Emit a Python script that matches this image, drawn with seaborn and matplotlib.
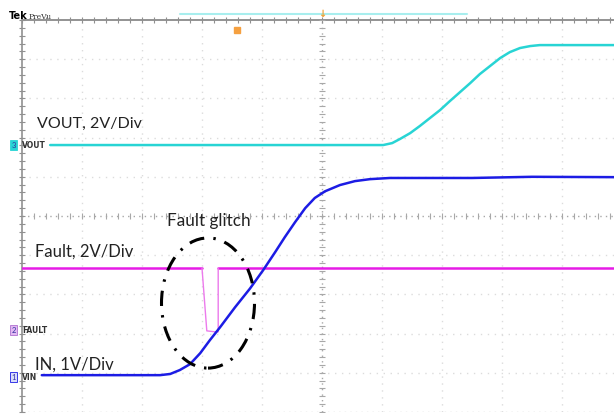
import seaborn as sns
import matplotlib.pyplot as plt
from matplotlib.patches import Ellipse

# time in screen divisions from the left edge, values in volts
vout_t = [0.47, 6.02, 6.17, 6.30, 6.47, 6.63, 6.80, 6.97, 7.13, 7.30, 7.47,
          7.63, 7.80, 7.97, 8.13, 8.30, 8.47, 8.63, 10.0]
vout_v = [0, 0, 0.10, 0.31, 0.61, 0.97, 1.38, 1.79, 2.24, 2.70, 3.16,
          3.62, 4.03, 4.44, 4.74, 4.95, 5.05, 5.10, 5.10]

vin_t = [0.33, 2.30, 2.47, 2.63, 2.80, 2.97, 3.13, 3.30, 3.55, 3.80, 4.02,
         4.22, 4.38, 4.55, 4.72, 4.88, 5.05, 5.30, 5.55, 5.80, 6.13, 7.5, 8.5, 10.0]
vin_v = [0, 0, 0.03, 0.13, 0.28, 0.56, 0.89, 1.22, 1.73, 2.21, 2.68,
         3.14, 3.52, 3.90, 4.26, 4.52, 4.69, 4.85, 4.95, 5.00, 5.03, 5.03, 5.06, 5.05]

fault_t = [0, 3.00, 3.08, 3.22, 3.27, 3.27, 10.0]
fault_v = [0, 0, -3.2, -3.25, -3.25, 0, 0]

# volts/div and screen offset (div) for each channel
vout_scale, vout_off = 2, 1.81
fault_scale, fault_off = 2, -1.33
vin_scale, vin_off = 1, -4.06

cyan = '#28D4D4'
blue = '#1C1CE4'
magenta = '#E61CE6'


def to_div(vals, scale, off):
    return [off + v / scale for v in vals]


sns.set_style('white')
plt.rcParams['font.family'] = ['Lato', 'DejaVu Sans']

fig = plt.figure(figsize=(6.14, 4.15), dpi=100)
ax = fig.add_axes([22 / 614, 3 / 415, 600 / 614, 392 / 415])
ax.set_xlim(0, 10)
ax.set_ylim(-5, 5)
for s in ax.spines.values():
    s.set_visible(False)
ax.set_xticks([])
ax.set_yticks([])

# graticule
grid_c = '#dcdcdc'
for x in range(1, 10):
    if x != 5:
        ax.axvline(x, color=grid_c, lw=1, ls=(0, (1, 4)), zorder=0)
for y in range(-4, 5):
    if y != 0:
        ax.axhline(y, color=grid_c, lw=1, ls=(0, (1, 4)), zorder=0)
ax.axhline(-5, color='#c8c8c8', lw=1, ls=(0, (1, 3)), zorder=0)
ax.axvline(5, color='#a8a8a8', lw=1, ls=(0, (1, 3)), zorder=0)
ax.axhline(0, color='#a8a8a8', lw=1, ls=(0, (1, 3)), zorder=0)
ax.axvline(0, color='#909090', lw=1.2, zorder=0, clip_on=False)
ax.axhline(5, color='#808080', lw=1.2, zorder=0, clip_on=False)
minor_x = [i * 0.2 for i in range(51)]
minor_y = [-5 + i * 0.2 for i in range(51)]
ax.plot(minor_x, [0] * len(minor_x), ls='none', marker='|', ms=4, color='#a8a8a8', mew=0.8)
ax.plot(minor_x, [5] * len(minor_x), ls='none', marker='|', ms=5, color='#909090', mew=0.8, clip_on=False)
ax.plot([5] * len(minor_y), minor_y, ls='none', marker='_', ms=4, color='#a8a8a8', mew=0.8)
ax.plot([0] * len(minor_y), minor_y, ls='none', marker='_', ms=5, color='#909090', mew=0.8, clip_on=False)

# traces
sns.lineplot(x=vout_t, y=to_div(vout_v, vout_scale, vout_off), ax=ax, color=cyan,
             lw=1.8, estimator=None, sort=False)
fy = to_div(fault_v, fault_scale, fault_off)
sns.lineplot(x=fault_t[:2], y=fy[:2], ax=ax, color=magenta, lw=1.8, estimator=None, sort=False)
sns.lineplot(x=fault_t[5:], y=fy[5:], ax=ax, color=magenta, lw=1.8, estimator=None, sort=False)
sns.lineplot(x=fault_t[1:6], y=fy[1:6], ax=ax, color='#EC7AEC', lw=1.0, estimator=None, sort=False)
sns.lineplot(x=vin_t, y=to_div(vin_v, vin_scale, vin_off), ax=ax, color=blue,
             lw=1.8, estimator=None, sort=False)

# annotation ellipse
ax.add_patch(Ellipse((3.10, -2.22), 1.55, 3.32, fill=False, ec='black', lw=2.2,
                     ls=(0, (5, 3, 0.8, 3)), zorder=5))

ax.text(0.25, 2.245, 'VOUT, 2V/Div', fontsize=11.5, color='#222222', va='baseline')
ax.text(0.217, -1.046, 'Fault, 2V/Div', fontsize=12, color='#222222', va='baseline')
ax.text(0.217, -3.93, 'IN, 1V/Div', fontsize=12, color='#222222', va='baseline')
ax.text(2.417, -0.255, 'Fault glitch', fontsize=12.3, color='#222222', va='baseline')

# channel markers on the left edge
marks = [(vout_off, '3', 'VOUT', cyan, cyan),
         (-2.91, '2', 'FAULT', '#E2B8F2', '#B070D0'),
         (vin_off - 0.05, '1', 'VIN', '#D8DCFA', blue)]
for y, num, name, fc, ec in marks:
    ax.text(-0.14, y, num, fontsize=5.5, color='#3030a0', ha='center', va='center',
            clip_on=False, bbox=dict(boxstyle='square,pad=0.15', fc=fc, ec=ec, lw=0.6))
    ax.text(0.0, y, name, fontsize=5.5, fontweight='bold', color='#333333',
            ha='left', va='center', clip_on=False, family='DejaVu Sans')

# trigger and record markers
ax.plot([3.58], [4.74], ls='none', marker='s', ms=4.5, color='#F5A040')
fig.lines.append(plt.Line2D([180 / 614, 467 / 614], [1 - 14 / 415, 1 - 14 / 415],
                            transform=fig.transFigure, color='#A8EEEE', lw=1.5))
fig.text(322 / 614, 1 - 14 / 415, '\u2193', fontsize=7, color='#F0A030', ha='center',
         va='center', fontweight='bold', family='DejaVu Sans')
fig.text(9 / 614, 1 - 19 / 415, 'Tek', fontsize=7, fontweight='bold', color='black',
         family='DejaVu Sans', va='baseline')
fig.text(29 / 614, 1 - 19 / 415, 'PreVu', fontsize=5.5, color='#333333',
         family='DejaVu Serif', va='baseline')

plt.savefig('out.png', dpi=100)
